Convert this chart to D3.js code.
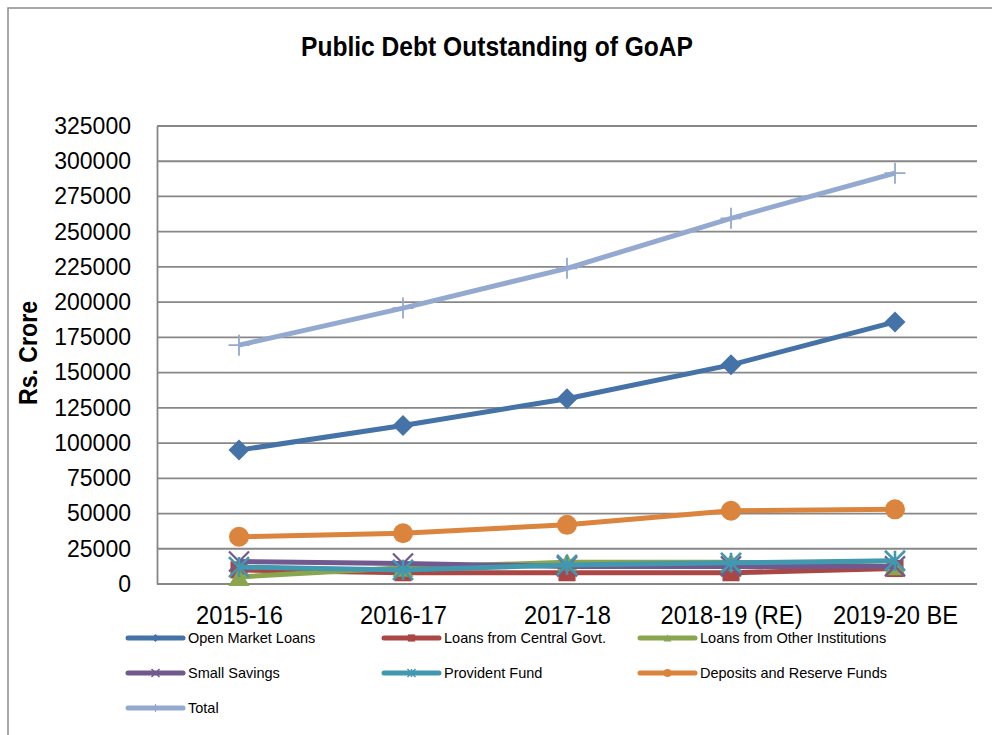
<!DOCTYPE html>
<html>
<head>
<meta charset="utf-8">
<script src="https://cdn.jsdelivr.net/npm/d3@7"></script>
<style>
  html, body { margin: 0; padding: 0; background: #ffffff; }
  svg { display: block; }
  text { font-family: "Liberation Sans", Arial, sans-serif; fill: #000; }
</style>
</head>
<body>
<svg id="chart" width="992" height="735"></svg>
<script>
const title = "Public Debt Outstanding of GoAP";
const yAxisTitle = "Rs. Crore";
const categories = ["2015-16", "2016-17", "2017-18", "2018-19 (RE)", "2019-20 BE"];
const yTicks = [0, 25000, 50000, 75000, 100000, 125000, 150000, 175000, 200000, 225000, 250000, 275000, 300000, 325000];

const openMarketLoans   = [95000, 112500, 131500, 155500, 186000];
const loansCentralGovt  = [10000, 8000, 8000, 8000, 11000];
const loansOtherInst    = [5000, 11500, 15500, 15500, 12500];
const smallSavings      = [16000, 14500, 12500, 12500, 12500];
const providentFund     = [12000, 10000, 13500, 15000, 16500];
const depositsReserve   = [33500, 36000, 42000, 52000, 53000];
const totalDebt         = [169500, 195800, 224000, 259500, 291500];

const seriesNames  = ["Open Market Loans", "Loans from Central Govt.", "Loans from Other Institutions",
                      "Small Savings", "Provident Fund", "Deposits and Reserve Funds", "Total"];
const seriesValues = [openMarketLoans, loansCentralGovt, loansOtherInst, smallSavings, providentFund, depositsReserve, totalDebt];
const seriesColors = ["#4572A7", "#AA4643", "#89A54E", "#71588F", "#4198AF", "#DB843D", "#93A9CF"];
const seriesMarkers = ["diamond", "square", "triangle", "x", "star", "circle", "plus"];

const series = seriesNames.map((name, i) => ({
  name, values: seriesValues[i], color: seriesColors[i], marker: seriesMarkers[i]
}));

const svg = d3.select("#chart");

// Chart area border
svg.append("rect")
  .attr("x", 8).attr("y", 8).attr("width", 1100).attr("height", 900)
  .attr("fill", "#fff").attr("stroke", "#8c8c8c").attr("stroke-width", 1.5);

const plot = { left: 157, right: 977, top: 126, bottom: 584 };

const x = d3.scalePoint().domain(categories).range([plot.left, plot.right]).padding(0.5);
const y = d3.scaleLinear().domain([0, 325000]).range([plot.bottom, plot.top]);

// Gridlines
svg.append("g")
  .selectAll("line")
  .data(yTicks.filter(d => d > 0))
  .join("line")
  .attr("x1", plot.left).attr("x2", plot.right)
  .attr("y1", d => y(d)).attr("y2", d => y(d))
  .attr("stroke", "#878787").attr("stroke-width", 1.8);

// Y axis
const yAxis = svg.append("g")
  .attr("transform", `translate(${plot.left},0)`)
  .call(d3.axisLeft(y).tickValues(yTicks).tickSize(0).tickPadding(26).tickFormat(d3.format("d")));
yAxis.select(".domain").attr("stroke", "#878787").attr("stroke-width", 1.8);
yAxis.selectAll("text")
  .attr("font-size", 23)
  .attr("font-family", "'Liberation Sans', Arial, sans-serif")
  .attr("fill", "#000");

// X axis
const xAxis = svg.append("g")
  .attr("transform", `translate(0,${plot.bottom})`)
  .call(d3.axisBottom(x).tickSize(0).tickPadding(22));
xAxis.select(".domain").attr("stroke", "#878787").attr("stroke-width", 1.8)
  .attr("d", `M${plot.left},0H${plot.right}`);
xAxis.selectAll("text")
  .attr("font-size", 26)
  .attr("font-family", "'Liberation Sans', Arial, sans-serif")
  .attr("fill", "#000")
  .each(function () {
    const w = this.getComputedTextLength();
    d3.select(this).attr("textLength", w * 0.91).attr("lengthAdjust", "spacingAndGlyphs");
  });

// Title
svg.append("text")
  .attr("x", 497).attr("y", 56)
  .attr("text-anchor", "middle")
  .attr("font-size", 27).attr("font-weight", "bold")
  .attr("textLength", 392).attr("lengthAdjust", "spacingAndGlyphs")
  .text(title);

// Y axis title
svg.append("text")
  .attr("transform", "translate(37,353) rotate(-90)")
  .attr("text-anchor", "middle")
  .attr("font-size", 25).attr("font-weight", "bold")
  .attr("textLength", 104).attr("lengthAdjust", "spacingAndGlyphs")
  .text(yAxisTitle);

// Marker drawing
function drawMarker(g, type, cx, cy, color, s) {
  const h = s / 2;
  if (type === "diamond") {
    g.append("path").attr("d", `M${cx},${cy - h}L${cx + h},${cy}L${cx},${cy + h}L${cx - h},${cy}Z`)
      .attr("fill", color);
  } else if (type === "square") {
    g.append("rect").attr("x", cx - h * 0.9).attr("y", cy - h * 0.9)
      .attr("width", h * 1.8).attr("height", h * 1.8).attr("fill", color);
  } else if (type === "triangle") {
    g.append("path").attr("d", `M${cx},${cy - h * 0.85}L${cx + h},${cy + h * 0.85}L${cx - h},${cy + h * 0.85}Z`)
      .attr("fill", color);
  } else if (type === "circle") {
    g.append("circle").attr("cx", cx).attr("cy", cy).attr("r", h).attr("fill", color);
  } else if (type === "x") {
    g.append("path").attr("d", `M${cx - h},${cy - h}L${cx + h},${cy + h}M${cx - h},${cy + h}L${cx + h},${cy - h}`)
      .attr("stroke", color).attr("stroke-width", s > 12 ? 2.2 : 1.5).attr("fill", "none");
  } else if (type === "star") {
    g.append("path").attr("d", `M${cx - h},${cy - h}L${cx + h},${cy + h}M${cx - h},${cy + h}L${cx + h},${cy - h}M${cx},${cy - h}L${cx},${cy + h}`)
      .attr("stroke", color).attr("stroke-width", s > 12 ? 2.6 : 1.5).attr("fill", "none");
  } else if (type === "plus") {
    g.append("path").attr("d", `M${cx - h},${cy}L${cx + h},${cy}M${cx},${cy - h}L${cx},${cy + h}`)
      .attr("stroke", color).attr("stroke-width", s > 12 ? 1.8 : 1.2).attr("fill", "none");
  }
}

// Lines
const line = d3.line()
  .x((d, i) => x(categories[i]))
  .y(d => y(d));

const markerSize = { diamond: 21, square: 19, triangle: 21, circle: 20, x: 20, star: 20, plus: 21 };

series.forEach(s => {
  const g = svg.append("g");
  g.append("path")
    .attr("d", line(s.values))
    .attr("fill", "none")
    .attr("stroke", s.color)
    .attr("stroke-width", 5)
    .attr("stroke-linejoin", "round");
  s.values.forEach((v, i) => {
    drawMarker(g, s.marker, x(categories[i]), y(v), s.color, markerSize[s.marker]);
  });
});

// Legend
const legendCols = [128, 384, 640];
const legendRows = [638, 673, 708];
series.forEach((s, i) => {
  const col = i % 3, row = Math.floor(i / 3);
  const lx = legendCols[col], ly = legendRows[row];
  const g = svg.append("g");
  g.append("line")
    .attr("x1", lx).attr("x2", lx + 55)
    .attr("y1", ly).attr("y2", ly)
    .attr("stroke", s.color).attr("stroke-width", 5).attr("stroke-linecap", "round");
  drawMarker(g, s.marker, lx + 27.5, ly, s.color, 8);
  g.append("text")
    .attr("x", lx + 60).attr("y", ly + 5)
    .attr("font-size", 14.5)
    .text(s.name);
});
</script>
</body>
</html>
